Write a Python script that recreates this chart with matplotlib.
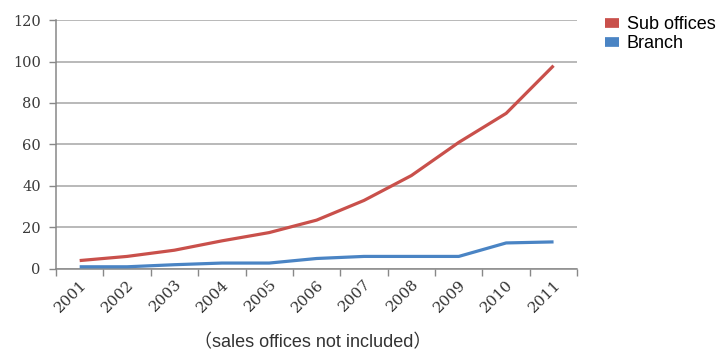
import numpy as np
import matplotlib.pyplot as plt
from matplotlib.ticker import FixedLocator

# Andmed pildilt loetud
aastad = ['2001', '2002', '2003', '2004', '2005', '2006',
          '2007', '2008', '2009', '2010', '2011']
sub_offices = [4, 6, 9, 13.5, 17.5, 23.5, 33, 45, 61, 75, 98]
branch = [1, 1, 2, 2.8, 2.8, 5, 6, 6, 6, 12.5, 13]
y_ticks = [0, 20, 40, 60, 80, 100, 120]

fig = plt.figure(figsize=(7.25, 3.58), dpi=100)
ax = fig.add_axes([0.0772, 0.249, 0.719, 0.695])

x = np.arange(len(aastad))
ax.plot(x, sub_offices, '-', color='#C9504B', linewidth=2.3,
        solid_capstyle='butt', label='Sub offices', zorder=3)
ax.plot(x, branch, '-', color='#4A84C4', linewidth=2.3,
        solid_capstyle='butt', label='Branch', zorder=3)

ax.set_xlim(-0.5, len(aastad) - 0.5)
ax.set_ylim(0, 120)
ax.set_yticks(y_ticks, labels=[str(v) for v in y_ticks],
              family='DejaVu Serif', fontsize=10.5, color='#3a3a3a')
ax.yaxis.grid(True, color='#a6a6a6', linewidth=1.1)
ax.set_axisbelow(True)

ax.set_xticks(x)
ax.set_xticklabels(aastad, rotation=45, ha='right', rotation_mode='anchor',
                   family='DejaVu Serif', fontsize=11, color='#333333')
ax.xaxis.set_minor_locator(FixedLocator(np.arange(-0.5, len(aastad), 1)))
ax.tick_params(axis='x', which='major', length=0, pad=6)
ax.tick_params(axis='x', which='minor', length=5, color='#888888', width=1)
ax.tick_params(axis='y', length=5, color='#888888', width=1, pad=6)

for s in ['top', 'right']:
    ax.spines[s].set_visible(False)
for s in ['left', 'bottom']:
    ax.spines[s].set_color('#888888')
    ax.spines[s].set_linewidth(1.1)

leg = ax.legend(loc='upper left', bbox_to_anchor=(1.04, 1.045), frameon=False,
                handlelength=0.75, handleheight=0.7, handletextpad=0.45,
                labelspacing=0.1, borderaxespad=0,
                prop={'family': 'Liberation Sans', 'size': 13})
for h in leg.legend_handles:
    h.set_linewidth(7)
    h.set_solid_capstyle('butt')

fig.text(0.431, 0.018, '（sales offices not included）', ha='center', va='bottom',
         fontsize=13, color='#333333',
         family=['Liberation Sans', 'Noto Sans CJK JP'])

plt.savefig('out.png', dpi=100)
plt.close()
